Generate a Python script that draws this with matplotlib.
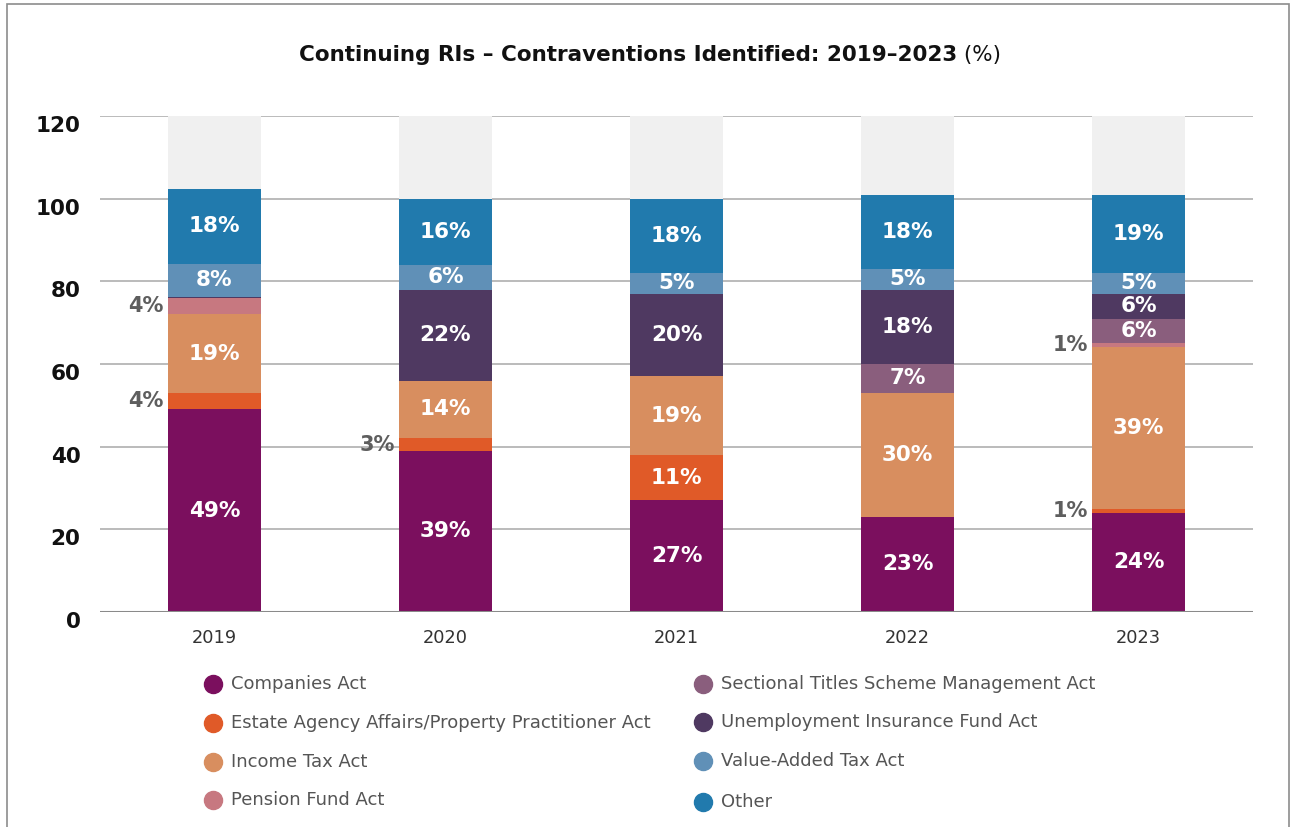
import matplotlib
matplotlib.use("Agg")
import matplotlib.pyplot as plt
from matplotlib.lines import Line2D
from matplotlib.patches import Rectangle
from matplotlib.transforms import ScaledTranslation
import numpy as np

plt.rcParams['font.family'] = ['DejaVu Sans']

# Data (percent of contraventions identified per year)
years = ['2019', '2020', '2021', '2022', '2023']
companies = [49, 39, 27, 23, 24]
estate_agency = [4, 3, 11, 0, 1]
income_tax = [19, 14, 19, 30, 39]
pension_fund = [4, 0, 0, 0, 1]
sectional_titles = [0, 0, 0, 7, 6]
unemployment = [0.3, 22, 20, 18, 6]
vat = [8, 6, 5, 5, 5]
other = [18, 16, 18, 18, 19]

series_names = ['Companies Act',
                'Estate Agency Affairs/Property Practitioner Act',
                'Income Tax Act',
                'Pension Fund Act',
                'Sectional Titles Scheme Management Act',
                'Unemployment Insurance Fund Act',
                'Value-Added Tax Act',
                'Other']
series_values = [companies, estate_agency, income_tax, pension_fund,
                 sectional_titles, unemployment, vat, other]
series_colors = ['#7B0F5E', '#E05A28', '#D88E5F', '#C77880',
                 '#8A5E7D', '#4F3961', '#6090B7', '#217AAD']

y_ticks = [0, 20, 40, 60, 80, 100, 120]
y_max = 120

fig = plt.figure(figsize=(12.92, 8.27), dpi=100)
ax = fig.add_axes([0.0774, 0.26, 0.8924, 0.5997])

x = np.arange(len(years))
bar_w = 0.40

# Background track behind each bar
ax.bar(x, [y_max] * len(years), width=bar_w, color='#F0F0F0', zorder=1)

bottom = np.zeros(len(years))
for name, vals, col in zip(series_names, series_values, series_colors):
    vals = np.array(vals, dtype=float)
    ax.bar(x, vals, width=bar_w, bottom=bottom, color=col, zorder=2,
           linewidth=0)
    for xi, b, v in zip(x, bottom, vals):
        if v >= 5:
            ax.text(xi, b + v / 2, f'{v:.0f}%', ha='center', va='center',
                    color='white', fontsize=15.5, fontweight='bold', zorder=3)
        elif v >= 1:
            ax.text(xi - bar_w / 2 - 0.02, b + v / 2, f'{v:.0f}%',
                    ha='right', va='center', color='#5E5E5E',
                    fontsize=15, fontweight='bold', zorder=3)
    bottom += vals

ax.set_xlim(-0.495, len(years) - 1 + 0.495)
ax.set_ylim(0, y_max)
ax.set_yticks(y_ticks)
ax.set_yticklabels([str(t) for t in y_ticks], fontsize=15.5,
                   fontweight='bold', color='#111111')
ax.set_xticks(x)
ax.set_xticklabels(years, fontsize=12.8, color='#333333')
ax.tick_params(axis='both', length=0)
ax.tick_params(axis='y', pad=14)
ax.tick_params(axis='x', pad=12)
# y tick labels sit slightly below their gridlines
down = ScaledTranslation(0, -8 / 100, fig.dpi_scale_trans)
for lab in ax.get_yticklabels():
    lab.set_transform(lab.get_transform() + down)

for t in y_ticks[1:]:
    ax.axhline(t, color='#B5B5B5', lw=1.3, zorder=0)
ax.axhline(0, color='#8A8A8A', lw=2.2, zorder=4)
for s in ax.spines.values():
    s.set_visible(False)

# Title: bold text followed by a regular "(%)"
W = fig.bbox.width
H = fig.bbox.height
title_y = 1 - 55 / H
t1 = fig.text(0.5, title_y, 'Continuing RIs – Contraventions Identified: 2019–2023',
              ha='left', va='center', fontsize=15.5, fontweight='bold',
              color='#111111')
t2 = fig.text(0, title_y, ' (%)', ha='left', va='center', fontsize=15.5,
              color='#111111')
renderer = fig.canvas.get_renderer()
w1 = t1.get_window_extent(renderer=renderer).width
w2 = t2.get_window_extent(renderer=renderer).width
left = (W - (w1 + w2)) / 2 + 4
t1.set_x(left / W)
t2.set_x((left + w1) / W)

# Legend in two columns with round markers
legend_rows_left = [684, 723, 762, 800]
legend_rows_right = [684, 722, 761, 802]
for i, (name, col) in enumerate(zip(series_names, series_colors)):
    if i < 4:
        mx, ty = 213, legend_rows_left[i]
    else:
        mx, ty = 703, legend_rows_right[i - 4]
    fig.add_artist(Line2D([mx / W], [1 - ty / H], marker='o', markersize=13,
                          color=col, linestyle='none',
                          transform=fig.transFigure))
    fig.text((mx + 18) / W, 1 - ty / H, name, ha='left', va='center',
             fontsize=13, color='#555555')

# Outer frame
fig.add_artist(Rectangle((7 / W, -0.01), (1289 - 7) / W, 1 - 4 / H + 0.01,
                         fill=False, edgecolor='#8C8C8C', lw=1.2,
                         transform=fig.transFigure))

fig.savefig('out.png', dpi=100)
